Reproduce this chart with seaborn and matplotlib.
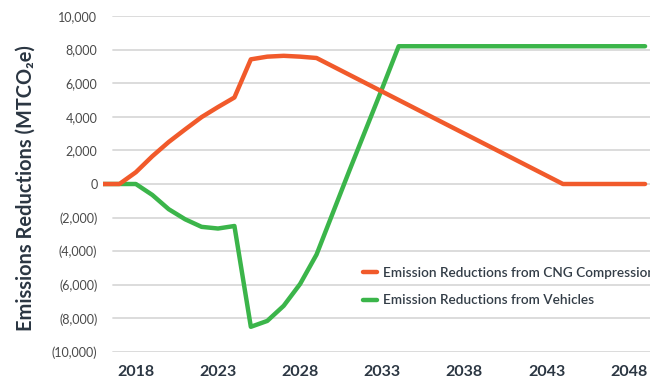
import matplotlib
matplotlib.use("Agg")
import matplotlib.pyplot as plt
import seaborn as sns
import pandas as pd
from matplotlib.ticker import FuncFormatter

# Annual emission reductions (MTCO2e), 2016-2049
years = list(range(2016, 2050))
cng_compression = [0, 0, 700, 1650, 2500, 3250, 3980, 4580, 5150, 7420,
                   7580, 7630, 7580, 7500, 7000, 6500, 6000, 5500, 5000, 4500,
                   4000, 3500, 3000, 2500, 2000, 1500, 1000, 500, 0, 0,
                   0, 0, 0, 0]
vehicles = [0, 0, 0, -650, -1500, -2100, -2550, -2650, -2500, -8500,
            -8150, -7250, -5950, -4200, -1700, 800, 3250, 5700, 8200, 8200,
            8200, 8200, 8200, 8200, 8200, 8200, 8200, 8200, 8200, 8200,
            8200, 8200, 8200, 8200]

series_names = ["Emission Reductions from CNG Compression",
                "Emission Reductions from Vehicles"]
series_colors = ["#F15A2B", "#3BB54A"]
x_ticks = [2018, 2023, 2028, 2033, 2038, 2043, 2048]
y_ticks = list(range(-10000, 10001, 2000))

df = pd.DataFrame({"year": years,
                   series_names[0]: cng_compression,
                   series_names[1]: vehicles})

sns.set_theme(style="white")
plt.rcParams["font.family"] = ["Lato", "DejaVu Sans"]

W, H = 650, 378
fig = plt.figure(figsize=(W / 100, H / 100), dpi=100)
ax = fig.add_axes([103 / W, 1 - 352 / H, 547 / W, (352 - 16) / H])

# horizontal grid
for v in y_ticks:
    ax.axhline(v, xmin=10 / 547, xmax=1, color="#d9d9d9", lw=1.3, zorder=0)

# vehicles first so the compression line sits on top
sns.lineplot(data=df, x="year", y=series_names[1], color=series_colors[1],
             lw=3.2, ax=ax, label=series_names[1], zorder=3)
sns.lineplot(data=df, x="year", y=series_names[0], color=series_colors[0],
             lw=3.2, ax=ax, label=series_names[0], zorder=4)

ax.set_xlim(2016, 2049.3)
ax.set_ylim(-10000, 10000)
for s in ax.spines.values():
    s.set_visible(False)

ax.set_xticks(x_ticks)
ax.set_xticklabels([str(t) for t in x_ticks], fontsize=11.5,
                   fontweight="bold", color="#2b3642")
ax.set_yticks(y_ticks)
ax.yaxis.set_major_formatter(FuncFormatter(
    lambda v, p: f"({abs(v):,.0f})" if v < 0 else f"{v:,.0f}"))
ax.tick_params(axis="x", length=0, pad=9)
ax.tick_params(axis="y", length=0, pad=4, labelsize=9, labelcolor="#4a4a4a")
ax.set_xlabel("")
ax.set_ylabel("")

fig.text(26 / W, 1 - 188 / H, "Emissions Reductions (MTCO\u2082e)",
         rotation=90, ha="center", va="center", fontsize=14.4,
         fontweight="bold", color="#2b3642",
         family=["Lato", "DejaVu Sans"])

handles, labels = ax.get_legend_handles_labels()
order = [labels.index(n) for n in series_names]
leg = ax.legend([handles[i] for i in order], [labels[i] for i in order],
                loc="center left", bbox_to_anchor=(363 / W, 1 - 286.5 / H),
                bbox_transform=fig.transFigure, frameon=False,
                borderpad=0, borderaxespad=0, handlelength=1.03,
                handletextpad=0.42, labelspacing=1.15,
                prop={"size": 9.8, "weight": "semibold"})
for t in leg.get_texts():
    t.set_color("#333d47")

fig.savefig("out.png", dpi=100)
